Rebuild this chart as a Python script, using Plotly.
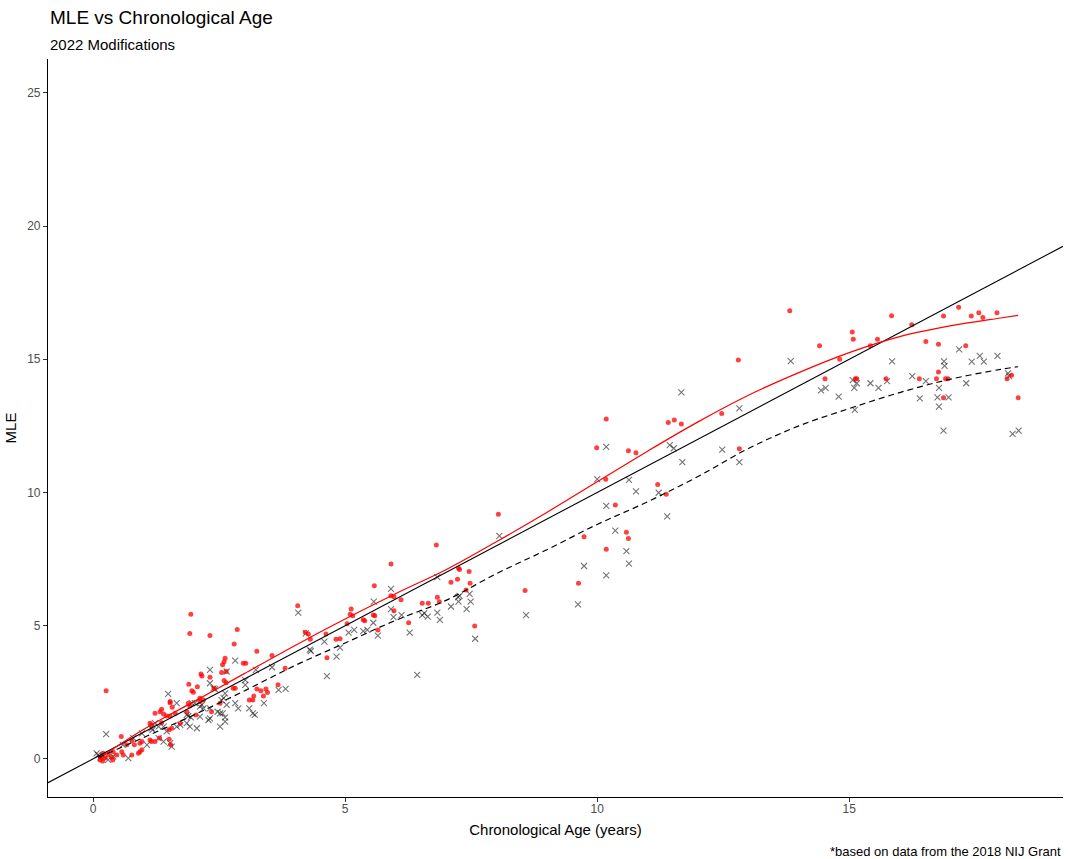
import plotly.graph_objects as go

# ---- data ----
red_x = [0.14,0.17,0.19,0.2,0.24,0.26,0.3,0.37,0.39,0.4,0.47,0.56,0.57,0.6,0.67,0.77,0.77,0.82,0.9,0.93,0.93,0.97,0.97,
         1.13,1.13,1.16,1.16,1.23,1.23,1.32,1.33,1.36,1.36,1.4,1.46,1.51,1.51,1.53,1.53,1.53,1.54,1.56,1.57,1.63,1.73,1.86,1.89,1.9,1.92,1.92,1.94,1.96,1.99,
         2.04,2.07,2.12,2.12,2.14,2.16,2.19,2.32,2.32,2.35,2.4,2.52,2.55,2.57,2.6,2.6,2.62,2.64,2.64,2.78,2.8,2.82,2.86,2.98,
         3.03,3.1,3.17,3.19,3.25,3.25,3.33,3.38,3.43,3.46,3.55,3.67,3.81,
         4.06,4.21,4.27,4.31,4.62,4.64,4.82,4.9,5.04,5.1,5.12,5.15,5.36,5.39,5.56,5.58,5.59,5.65,5.91,5.91,5.97,5.97,
         6.11,6.26,6.53,6.65,6.81,6.83,6.87,7.1,7.23,7.25,7.27,7.4,7.46,7.48,7.57,8.04,8.57,9.63,9.74,9.99,
         10.17,10.18,10.18,10.36,10.58,10.62,10.62,10.77,11.2,11.37,11.41,11.53,11.67,12.47,12.8,12.82,
         13.82,14.41,14.52,14.81,15.06,15.08,15.12,15.15,15.42,15.56,15.73,15.84,16.24,16.39,16.52,16.73,16.77,16.77,16.87,16.87,16.91,16.96,
         17.17,17.31,17.42,17.57,17.65,17.93,18.13,18.22,18.35]
red_y = [-0.04,0.09,-0.08,0.21,0.03,2.56,0.15,0.06,-0.04,0.27,0.15,0.84,0.27,0.15,0.53,0.68,0.15,0.53,0.21,0.27,0.59,0.65,0.34,
         1.34,0.71,1.28,0.65,0.65,1.71,0.78,1.77,1.36,1.86,1.69,1.61,1.09,0.74,1.61,2.11,2.15,0.53,1.15,1.94,1.71,1.34,1.77,2.09,2.8,1.99,4.71,5.43,2.56,2.5,
         1.65,2.71,2.28,2.15,3.19,3.11,2.21,3.06,4.63,1.77,2.65,2.09,3.24,3.53,3.65,2.94,3.78,3.28,2.86,2.65,4.31,2.65,4.86,3.59,
         3.59,2.21,2.21,2.36,4.04,2.62,2.56,2.36,2.62,2.49,3.88,2.78,3.4,
         5.75,4.75,4.69,4.49,4.69,3.8,4.49,4.51,5.07,5.43,5.63,5.37,5.22,5.19,5.4,6.5,5.37,4.84,7.32,6.12,6.09,5.56,
         5.97,5.11,5.84,5.84,8.03,6.07,5.9,6.63,6.74,7.16,7.11,6.34,7.03,6.59,4.99,9.18,6.32,6.59,8.34,11.68,
         10.5,12.76,7.87,9.53,8.51,11.57,8.27,11.49,10.3,9.93,12.63,12.72,12.57,12.96,14.97,11.64,
         16.82,15.51,14.27,15.0,16.02,15.75,14.27,14.27,15.51,15.75,14.27,16.63,16.3,14.27,15.67,14.27,15.56,14.52,16.62,13.56,14.27,14.27,
         16.95,15.51,16.62,16.75,16.57,16.75,14.27,14.4,13.56]

blk_x = [0.07,0.1,0.15,0.2,0.26,0.3,0.4,0.59,0.7,0.8,0.97,1.07,1.16,1.18,1.23,1.3,1.3,1.4,1.4,1.46,1.49,1.53,1.56,1.66,1.66,1.73,1.86,1.86,1.89,1.92,1.94,1.96,
         2.02,2.06,2.12,2.12,2.16,2.19,2.29,2.32,2.32,2.32,2.32,2.39,2.42,2.47,2.52,2.52,2.55,2.57,2.59,2.62,2.62,2.62,2.65,2.65,2.82,2.82,2.88,
         3.02,3.02,3.1,3.17,3.21,3.23,3.39,3.55,3.68,3.82,
         4.07,4.22,4.3,4.32,4.59,4.64,4.83,4.9,5.07,5.18,5.36,5.44,5.56,5.57,5.65,5.91,5.91,5.96,
         6.12,6.28,6.43,6.53,6.57,6.64,6.83,6.83,6.88,7.1,7.24,7.25,7.27,7.41,7.47,7.49,7.58,8.06,8.59,9.62,9.74,
         10.0,10.18,10.18,10.18,10.36,10.58,10.63,10.63,10.77,11.22,11.39,11.44,11.52,11.67,11.69,12.48,12.82,12.82,
         13.84,14.44,14.53,14.79,15.07,15.1,15.11,15.15,15.42,15.58,15.75,15.85,16.25,16.4,16.52,16.75,16.78,16.78,16.87,16.88,16.89,16.97,
         17.18,17.32,17.43,17.59,17.67,17.94,18.15,18.17,18.24,18.36]
blk_y = [0.21,0.15,0.05,0.1,0.93,-0.04,0.09,0.53,0.03,0.78,0.96,0.53,1.15,1.09,1.34,0.78,1.21,0.65,1.21,1.03,2.44,0.59,0.46,1.21,2.09,1.28,1.34,1.65,1.61,1.21,1.56,2.09,
         2.09,1.15,1.96,1.59,2.03,1.9,1.46,3.34,2.84,1.9,1.52,2.65,2.62,1.77,1.71,1.21,2.21,1.71,2.28,2.46,1.56,1.4,3.28,2.03,3.69,2.09,1.9,
         2.96,2.78,1.9,1.71,1.65,3.34,2.09,3.44,2.59,2.63,
         5.49,4.71,4.1,4.05,4.4,3.11,3.84,4.18,4.74,4.84,4.8,4.84,5.11,5.9,4.63,6.38,5.62,5.32,
         5.4,4.74,3.15,5.4,5.47,5.34,6.82,5.49,5.22,5.72,6.07,5.9,6.12,5.62,6.19,5.9,4.51,8.37,5.4,5.8,7.24,
         10.5,11.71,9.5,6.89,8.57,7.8,10.47,7.33,10.04,9.99,9.1,11.78,11.66,13.76,11.14,11.61,13.16,11.14,
         14.93,13.83,13.93,13.6,14.22,13.93,13.1,14.1,14.1,13.93,14.18,14.92,14.37,13.53,14.18,13.57,13.93,13.22,12.32,14.92,14.75,13.57,
         15.37,14.1,14.91,15.13,14.91,15.13,14.47,14.37,12.2,12.32]

# smoothed trends
smooth_x = [0.1, 1, 2, 3, 4, 5, 6, 7, 8, 9, 10, 11, 12, 13, 14, 15, 16, 17, 18, 18.35]
red_smooth = [0.0, 1.1, 2.15, 3.2, 4.25, 5.25, 6.2, 7.1, 8.15, 9.25, 10.4, 11.55, 12.65, 13.65, 14.5, 15.25, 15.85, 16.25, 16.55, 16.65]
blk_smooth = [0.05, 0.8, 1.65, 2.55, 3.5, 4.35, 5.2, 5.95, 6.95, 7.85, 8.8, 9.65, 10.6, 11.65, 12.5, 13.15, 13.75, 14.25, 14.62, 14.72]

x_range = [-0.893, 19.24]
y_range = [-1.43, 26.27]

FONT = "Liberation Sans, Arial, sans-serif"

fig = go.Figure()
fig.add_trace(go.Scatter(x=blk_x, y=blk_y, mode="markers",
                         marker=dict(symbol="x-thin", size=6, line=dict(width=1.1, color="rgba(0,0,0,0.55)"))))
fig.add_trace(go.Scatter(x=red_x, y=red_y, mode="markers",
                         marker=dict(symbol="circle", size=5, color="rgba(255,0,0,0.75)", line=dict(width=0))))
fig.add_trace(go.Scatter(x=x_range, y=x_range, mode="lines", line=dict(color="black", width=1.1)))
fig.add_trace(go.Scatter(x=smooth_x, y=red_smooth, mode="lines", line=dict(color="red", width=1.2, shape="spline")))
fig.add_trace(go.Scatter(x=smooth_x, y=blk_smooth, mode="lines", line=dict(color="black", width=1.2, dash="6px,4px", shape="spline")))

axis_common = dict(showgrid=False, zeroline=False, showline=True, linecolor="black", linewidth=1.1,
                   ticks="outside", ticklen=4, tickcolor="#333333", tickwidth=1,
                   tickfont=dict(family=FONT, size=12, color="#4D4D4D"))

fig.update_layout(
    width=1068, height=859,
    margin=dict(l=48, r=5, t=59, b=62),
    paper_bgcolor="white", plot_bgcolor="white",
    showlegend=False,
    font=dict(family=FONT),
    xaxis=dict(range=x_range, tickvals=[0, 5, 10, 15], ticktext=["0", "5", "10", "15"],
               ticklabelstandoff=-3,
               title=dict(text="Chronological Age (years)", font=dict(family=FONT, size=15, color="black"), standoff=9),
               **axis_common),
    yaxis=dict(range=y_range, tickvals=[0, 5, 10, 15, 20, 25], ticktext=["0", "5", "10", "15", "20", "25"],
               title=dict(text="MLE", font=dict(family=FONT, size=15, color="black"), standoff=6),
               **axis_common),
    annotations=[
        dict(text="MLE vs Chronological Age", xref="paper", yref="paper", x=0.0, y=1.0556,
             xanchor="left", yanchor="middle", showarrow=False, font=dict(family=FONT, size=19, color="black")),
        dict(text="2022 Modifications", xref="paper", yref="paper", x=0.0, y=1.0203,
             xanchor="left", yanchor="middle", showarrow=False, font=dict(family=FONT, size=15, color="black")),
        dict(text="*based on data from the 2018 NIJ Grant", xref="paper", yref="paper", x=1.0, y=-0.0732,
             xanchor="right", yanchor="middle", showarrow=False, font=dict(family=FONT, size=13, color="black")),
    ],
)

fig.write_html("out.html")
